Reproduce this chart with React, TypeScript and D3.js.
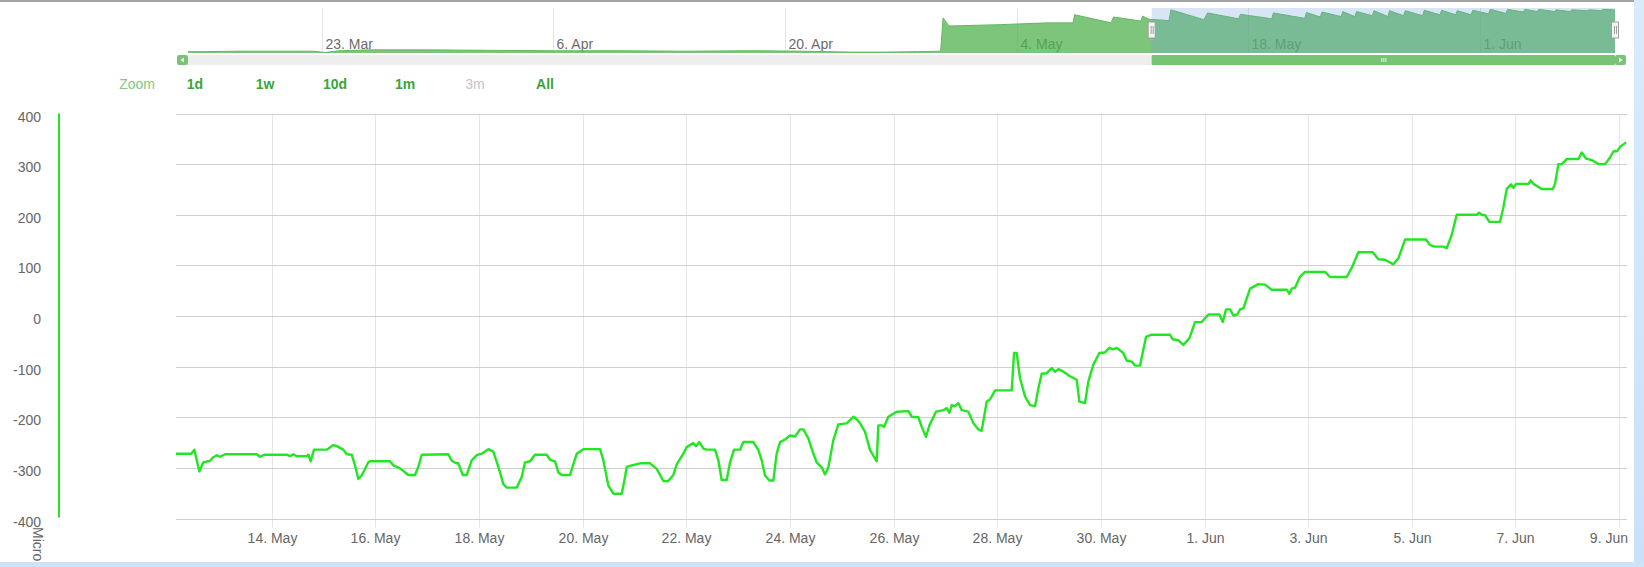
import React from "react";
import * as d3 from "d3";

const BASE = Date.UTC(2015, 4, 12); // 12 May 2015, 00:00 UTC
const DAY = 86400000;

// main series: days since 12 May, value
const mainDays = [
  0.153, 0.45, 0.507, 0.603, 0.68, 0.81, 0.86, 0.94, 1.0, 1.1, 1.71, 1.774, 1.87, 2.29, 2.353, 2.417, 2.48, 2.675,
  2.707, 2.752, 2.816, 3.061, 3.189, 3.254, 3.382, 3.447, 3.544, 3.607, 3.671, 3.737, 3.864, 3.897, 4.283, 4.347,
  4.476, 4.636, 4.765, 4.829, 4.895, 5.408, 5.474, 5.557, 5.601, 5.686, 5.763, 5.859, 5.956, 6.052, 6.18, 6.276,
  6.373, 6.47, 6.535, 6.728, 6.824, 6.888, 6.985, 7.081, 7.307, 7.371, 7.467, 7.531, 7.596, 7.756, 7.886, 8.013,
  8.335, 8.399, 8.496, 8.592, 8.754, 8.818, 8.851, 8.947, 9.107, 9.3, 9.429, 9.557, 9.653, 9.75, 9.815, 9.943,
  10.008, 10.136, 10.188, 10.252, 10.329, 10.394, 10.554, 10.619, 10.683, 10.78, 10.844, 10.921, 11.037, 11.101,
  11.294, 11.391, 11.455, 11.519, 11.603, 11.68, 11.744, 11.809, 11.905, 12.002, 12.098, 12.195, 12.259, 12.356,
  12.452, 12.516, 12.613, 12.677, 12.741, 12.838, 12.934, 13.095, 13.224, 13.288, 13.353, 13.449, 13.546, 13.674,
  13.706, 13.771, 13.816, 13.899, 14.06, 14.285, 14.35, 14.478, 14.543, 14.626, 14.691, 14.819, 14.961, 15.025,
  15.077, 15.122, 15.186, 15.25, 15.315, 15.443, 15.54, 15.636, 15.7, 15.797, 15.861, 15.958, 16.279, 16.325,
  16.376, 16.44, 16.537, 16.633, 16.73, 16.794, 16.858, 16.955, 17.051, 17.116, 17.18, 17.276, 17.405, 17.534,
  17.585, 17.694, 17.759, 17.855, 17.971, 18.08, 18.164, 18.241, 18.306, 18.434, 18.498, 18.595, 18.659, 18.756,
  18.872, 18.981, 19.335, 19.386, 19.496, 19.592, 19.708, 19.817, 19.946, 20.075, 20.287, 20.351, 20.416, 20.493,
  20.557, 20.634, 20.686, 20.75, 20.879, 21.04, 21.168, 21.297, 21.586, 21.638, 21.683, 21.747, 21.844, 21.94,
  22.326, 22.423, 22.744, 22.841, 22.969, 23.246, 23.355, 23.484, 23.645, 23.741, 23.87, 24.275, 24.352, 24.449,
  24.61, 24.674, 24.77, 24.867, 25.253, 25.298, 25.349, 25.414, 25.497, 25.703, 25.768, 25.832, 25.916, 25.961,
  26.012, 26.25, 26.295, 26.346, 26.507, 26.72, 26.764, 26.829, 26.893, 26.99, 27.215, 27.279, 27.363, 27.472,
  27.601, 27.73, 27.826, 27.89, 27.968, 28.019, 28.135,
];
const mainValues = [
  -272, -272, -264, -307, -289, -286, -280, -275, -278, -273, -273, -278, -274, -274, -277, -273, -277, -277,
  -274, -287, -264, -264, -255, -257, -264, -273, -274, -295, -322, -315, -289, -287, -287, -295,
  -301, -314, -314, -298, -274, -273, -286, -291, -291, -314, -314, -285, -275, -272, -263, -268,
  -298, -332, -339, -339, -318, -289, -287, -274, -274, -284, -287, -309, -314, -314, -272, -263,
  -263, -285, -335, -351, -351, -318, -298, -295, -291, -291, -302, -326, -326, -314, -293, -272,
  -259, -251, -257, -249, -262, -264, -264, -285, -324, -324, -289, -264, -264, -249,
  -249, -265, -285, -315, -325, -325, -272, -249, -244, -236, -238, -224, -224, -242,
  -272, -289, -299, -313, -299, -245, -214, -212, -199, -204, -212, -229, -265, -287,
  -216, -216, -219, -199, -189, -188, -199, -200, -219, -239, -216, -189, -186, -182,
  -191, -176, -178, -172, -186, -189, -212, -224, -227, -169, -165, -147, -147, -73,
  -73, -123, -159, -176, -178, -143, -114, -113, -103, -110, -105, -110, -119, -126,
  -169, -172, -129, -96, -73, -72, -63, -66, -63, -73, -88, -90, -98, -98,
  -41, -37, -37, -46, -48, -57, -44, -12, -12, 3, 3, -12, 13, 13,
  1, 3, 13, 15, 54, 63, 62, 52, 52, 44, 54, 56, 78, 87,
  87, 77, 77, 95, 126, 126, 112, 111, 102, 114, 151, 151, 140, 137,
  137, 134, 160, 200, 200, 204, 200, 199, 186, 186, 215, 251, 260, 253,
  261, 261, 268, 261, 251, 251, 261, 300, 300, 310, 310, 323, 311, 308,
  300, 300, 313, 325, 326, 334, 343,
];

// navigator series: days since 12 May, relative level
const navDays = [
  -58.08, -57.0, -55.0, -52.0, -50.5, -49.8, -49.0, -47.0, -44.0, -40.0, -36.0, -32.0, -28.0, -24.0, -21.0, -18.0,
  -16.0, -14.0, -12.6, -12.45, -12.1, -9.0, -6.1, -4.6, -4.5, -2.3, -2.15, -0.5, -0.4, 0.0, 1.2,
  1.32, 3.31, 3.53, 5.41, 5.52, 7.41, 7.51, 9.4, 9.51, 10.34, 10.45, 11.6, 11.7, 12.43, 12.54, 13.49, 13.59, 14.43,
  14.53, 15.37, 15.48, 16.52, 16.63, 17.57, 17.68, 18.52, 18.62, 19.46, 19.56, 20.51, 20.62, 21.56, 21.66, 22.61,
  22.71, 23.45, 23.55, 24.49, 24.6, 25.44, 25.54, 26.48, 26.59, 27.32, 27.42, 28.0, 28.153,
];
const navValues = [
  3, 3, 4, 4, 4, 1, 5, 7, 7, 6, 5, 5, 4, 5, 4, 2,
  2, 3, 4, 78, 60, 63, 67, 67, 85, 67, 80, 71, 82, 75, 72,
  96, 74, 89, 76, 86, 76, 89, 77, 90, 80, 91, 81, 92, 81, 92, 83, 94, 81,
  94, 83, 94, 83, 95, 85, 95, 85, 94, 85, 95, 87, 97, 88, 97, 91,
  97, 92, 97, 92, 96, 92, 96, 94, 96, 94, 97, 96, 96,
];

const yTicks = [-400, -300, -200, -100, 0, 100, 200, 300, 400];
const xTickDates = [
  "2015-05-14", "2015-05-16", "2015-05-18", "2015-05-20", "2015-05-22", "2015-05-24", "2015-05-26",
  "2015-05-28", "2015-05-30", "2015-06-01", "2015-06-03", "2015-06-05", "2015-06-07", "2015-06-09",
];
const navTickDates = ["2015-03-23", "2015-04-06", "2015-04-20", "2015-05-04", "2015-05-18", "2015-06-01"];
const zoomLabel = "Zoom";
const zoomButtons = ["1d", "1w", "10d", "1m", "3m", "All"];
const disabledButtons = ["3m"];
const yTitle = "Micro";

const W = 1644;
const H = 567;
const FONT = "'Liberation Sans', Arial, sans-serif";
const LINE = "#22e622";

export default function App() {
  const start = BASE + 0.1528 * DAY;
  const end = BASE + 28.1528 * DAY;
  const plot = { left: 176, right: 1627, top: 113.5, bottom: 518.5 };
  const nav = { left: 188, right: 1615, top: 8, bottom: 53 };

  const x = d3.scaleUtc().domain([start, end]).range([plot.left, plot.right]);
  const y = d3.scaleLinear().domain([-400, 400]).range([plot.bottom, plot.top]);
  const xn = d3.scaleUtc().domain([BASE - 58.083 * DAY, end]).range([nav.left, nav.right]);
  const yn = d3.scaleLinear().domain([0, 100]).range([nav.bottom, nav.top]).clamp(true);
  const fmt = d3.utcFormat("%-d. %b");

  const mainData = mainDays.map((d, i) => ({ t: BASE + d * DAY, v: mainValues[i] }));
  const navData = navDays.map((d, i) => ({ t: BASE + d * DAY, v: navValues[i] }));

  const line = d3
    .line<{ t: number; v: number }>()
    .x((d) => x(d.t))
    .y((d) => y(d.v));
  const navArea = d3
    .area<{ t: number; v: number }>()
    .x((d) => xn(d.t))
    .y0(nav.bottom)
    .y1((d) => yn(d.v));
  const navLine = d3
    .line<{ t: number; v: number }>()
    .x((d) => xn(d.t))
    .y((d) => yn(d.v));

  const selL = xn(start);
  const selR = xn(end);
  const sbY = 55;
  const sbH = 10;

  return (
    <svg
      width={W}
      height={H}
      style={{ position: "absolute", left: 0, top: 0, background: "#fff" }}
      fontFamily={FONT}
    >
      <defs>
        <clipPath id="plotClip">
          <rect x={plot.left} y={plot.top - 5} width={plot.right - plot.left} height={plot.bottom - plot.top + 10} />
        </clipPath>
        <linearGradient id="blueR" x1="0" y1="0" x2="0" y2="1">
          <stop offset="0" stopColor="#d9ebfb" />
          <stop offset="1" stopColor="#c9e1f7" />
        </linearGradient>
      </defs>

      {/* top border */}
      <rect x={0} y={0} width={1634} height={2} fill="#a3a3a3" />

      {/* navigator gridlines and labels */}
      {navTickDates.map((s) => {
        const t = Date.parse(s);
        const xx = Math.round(xn(t)) + 0.5;
        return (
          <g key={s}>
            <line x1={xx} x2={xx} y1={nav.top} y2={nav.bottom} stroke="#e4e4e4" />
            <text x={xx + 3} y={44} fontSize={14} fill="#6b6b6b" dominantBaseline="central">
              {fmt(new Date(t))}
            </text>
          </g>
        );
      })}

      {/* navigator series */}
      <path d={navArea(navData) || ""} fill="rgb(80,178,78)" fillOpacity={0.75} />
      <path d={navLine(navData) || ""} fill="none" stroke="rgb(98,186,96)" strokeWidth={1} />
      {/* selected range mask */}
      <rect x={selL} y={nav.top} width={selR - selL} height={nav.bottom - nav.top} fill="rgba(110,160,215,0.28)" />

      {/* scrollbar */}
      <rect x={nav.left} y={sbY} width={nav.right - nav.left} height={sbH} fill="#eeeeee" />
      <rect x={selL} y={sbY} width={selR - selL} height={sbH} fill="#76c474" rx={1} />
      {[-2, 0, 2].map((o) => (
        <line
          key={o}
          x1={(selL + selR) / 2 + o + 0.5}
          x2={(selL + selR) / 2 + o + 0.5}
          y1={sbY + 3}
          y2={sbY + sbH - 3}
          stroke="#e8f5e8"
        />
      ))}
      <rect x={nav.left - 11} y={sbY} width={11} height={sbH} fill="#76c474" rx={2} />
      <path d={`M${nav.left - 4},${sbY + 2.5} L${nav.left - 4},${sbY + 7.5} L${nav.left - 7.5},${sbY + 5} Z`} fill="#ffffff" />
      <rect x={nav.right} y={sbY} width={11} height={sbH} fill="#76c474" rx={2} />
      <path d={`M${nav.right + 4},${sbY + 2.5} L${nav.right + 4},${sbY + 7.5} L${nav.right + 7.5},${sbY + 5} Z`} fill="#ffffff" />

      {/* handles */}
      {[selL, selR].map((hx, i) => (
        <g key={i}>
          <rect x={hx - 3.5} y={22} width={7} height={16} fill="#f4f4f4" stroke="#a0a0a0" strokeWidth={1} />
          <line x1={hx - 0.5} x2={hx - 0.5} y1={26} y2={34} stroke="#a0a0a0" />
          <line x1={hx + 1.5} x2={hx + 1.5} y1={26} y2={34} stroke="#a0a0a0" />
        </g>
      ))}

      {/* range selector */}
      <text x={155} y={84} fontSize={14} fill="#82c882" textAnchor="end" dominantBaseline="central">
        {zoomLabel}
      </text>
      {zoomButtons.map((b, i) => (
        <text
          key={b}
          x={195 + i * 70}
          y={84}
          fontSize={14}
          fontWeight={disabledButtons.includes(b) ? "normal" : "bold"}
          fill={disabledButtons.includes(b) ? "#c4c4c4" : "#3aa43a"}
          textAnchor="middle"
          dominantBaseline="central"
        >
          {b}
        </text>
      ))}

      {/* main plot gridlines */}
      {xTickDates.map((s) => {
        const t = Date.parse(s);
        const xx = Math.round(x(t)) + 0.5;
        const overflow = xx + 20 > plot.right;
        return (
          <g key={s}>
            <line x1={xx} x2={xx} y1={plot.top} y2={plot.bottom + 9} stroke="#e6e6e6" />
            <text
              x={overflow ? plot.right + 1 : xx}
              y={538}
              fontSize={14}
              fill="#666"
              textAnchor={overflow ? "end" : "middle"}
              dominantBaseline="central"
            >
              {fmt(new Date(t))}
            </text>
          </g>
        );
      })}
      {yTicks.map((v) => {
        const yy = Math.round(y(v)) + 0.5;
        return (
          <g key={v}>
            <line x1={plot.left} x2={plot.right} y1={yy} y2={yy} stroke="#cfcfcf" />
            <text x={41} y={yy + 2} fontSize={14} fill="#666" textAnchor="end" dominantBaseline="central">
              {v}
            </text>
          </g>
        );
      })}

      {/* y axis line */}
      <line x1={59} x2={59} y1={y(400)} y2={y(-400) - 1} stroke={LINE} strokeWidth={2} />
      <text x={33} y={527} fontSize={14} fill="#666" transform="rotate(90 33 527)">
        {yTitle}
      </text>

      {/* main series */}
      <g clipPath="url(#plotClip)">
        <path d={line(mainData) || ""} fill="none" stroke={LINE} strokeWidth={2.4} strokeLinejoin="round" />
      </g>

      {/* page frame */}
      <rect x={1634} y={0} width={10} height={H} fill="url(#blueR)" />
      <rect x={0} y={562} width={W} height={5} fill="#cde4f8" />
    </svg>
  );
}
